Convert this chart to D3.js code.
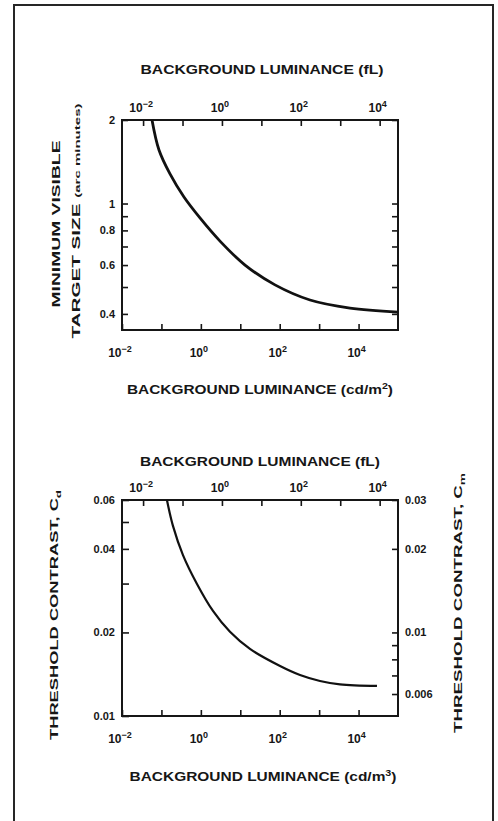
<!DOCTYPE html>
<html>
<head>
<meta charset="utf-8">
<script src="https://cdn.jsdelivr.net/npm/d3@7"></script>
<style>
  body { margin: 0; background: #fff; }
  text { font-family: "Liberation Sans", Arial, sans-serif; font-weight: bold; fill: #161616; }
</style>
</head>
<body>
<div id="chart"></div>
<script>
// luminance in cd/m2, 1 fL = 3.426 cd/m2
var FL = 3.426;

// top panel: minimum visible target size (arc minutes)
var sizeLum = [0.0577, 0.0867, 0.165, 0.373, 0.95, 3.06, 13.2, 75.9, 586, 6050, 100000];
var sizeVal = [2.0, 1.559, 1.278, 1.055, 0.887, 0.732, 0.600, 0.509, 0.449, 0.420, 0.406];

// bottom panel: threshold contrast C_d
var contLum = [0.138, 0.196, 0.352, 0.798, 2.03, 5.48, 17.6, 102, 327, 1050, 3380, 29300];
var contVal = [0.06, 0.0484, 0.038, 0.0299, 0.0239, 0.0201, 0.01744, 0.01514, 0.01405, 0.01337, 0.0130, 0.01283];

var decadeTicks = [1e-2, 1e-1, 1, 1e1, 1e2, 1e3, 1e4];
var decadeLabels = [1e-2, 1, 1e2, 1e4];
var sizeTicks = [2, 1, 0.9, 0.8, 0.7, 0.6, 0.5, 0.4];
var sizeLabels = [2, 1, 0.8, 0.6, 0.4];
var cdTicks = [0.06, 0.05, 0.04, 0.03, 0.02, 0.01];
var cdLabels = [0.06, 0.04, 0.02, 0.01];
var cmTicks = [0.03, 0.02, 0.01, 0.009, 0.008, 0.007, 0.006];
var cmLabels = [0.03, 0.02, 0.01, 0.006];

var svg = d3.select("#chart").append("svg")
  .attr("width", 498).attr("height", 821);

// outer frame (open at bottom of picture)
svg.append("rect")
  .attr("x", 14).attr("y", 5).attr("width", 479).attr("height", 840)
  .attr("fill", "none").attr("stroke", "#262626").attr("stroke-width", 2);

function expLabel(g, x, y, v) {
  var e = Math.round(Math.log10(v));
  var t = g.append("text").attr("x", x).attr("y", y)
    .attr("text-anchor", "middle").style("font-size", "12px");
  t.append("tspan").text("10");
  t.append("tspan").attr("dy", -5).style("font-size", "9px").text(e < 0 ? "\u2212" + (-e) : e);
}

function panel(box) {
  var x = d3.scaleLog().domain([1e-2, 1e5]).range([box.left, box.right]);
  var xf = d3.scaleLog().domain([1e-2 / FL, 1e5 / FL]).range([box.left, box.right]);
  var g = svg.append("g");

  g.append("g")
    .attr("transform", "translate(0," + box.bottom + ")")
    .call(d3.axisBottom(x).tickValues(decadeTicks).tickSize(-6).tickSizeOuter(0).tickFormat(""))
    .call(a => a.select(".domain").remove());
  g.append("g")
    .attr("transform", "translate(0," + box.top + ")")
    .call(d3.axisTop(xf).tickValues(decadeTicks).tickSize(-6).tickSizeOuter(0).tickFormat(""))
    .call(a => a.select(".domain").remove());

  decadeLabels.forEach(v => {
    expLabel(g, x(v) - 2, box.bottom + 27, v);
    expLabel(g, xf(v) - 2, box.top - 8, v);
  });

  g.append("rect")
    .attr("x", box.left).attr("y", box.top)
    .attr("width", box.right - box.left).attr("height", box.bottom - box.top)
    .attr("fill", "none").attr("stroke", "#161616").attr("stroke-width", 2);

  g.selectAll(".tick line").attr("stroke", "#161616").attr("stroke-width", 1.6);
  return {x: x, g: g};
}

function title(txt, sup, cx, y, len) {
  var t = svg.append("text").attr("x", cx).attr("y", y).attr("text-anchor", "middle")
    .style("font-size", "13px")
    .attr("textLength", len).attr("lengthAdjust", "spacingAndGlyphs");
  t.append("tspan").text(txt);
  if (sup) {
    t.append("tspan").attr("dy", -5).style("font-size", "9px").text(sup);
    t.append("tspan").attr("dy", 5).text(")");
  }
}

var smooth = d3.curveCatmullRom.alpha(0.5);

// ---------- top panel ----------
var boxA = {left: 122, right: 398, top: 120, bottom: 330};
var yA = d3.scaleLog().domain([0.35, 2]).range([boxA.bottom, boxA.top]);
var pA = panel(boxA);

pA.g.append("g")
  .attr("transform", "translate(" + boxA.left + ",0)")
  .call(d3.axisLeft(yA).tickValues(sizeTicks).tickSize(-6).tickPadding(7).tickSizeOuter(0)
    .tickFormat(d => sizeLabels.indexOf(d) >= 0 ? d3.format("~g")(d) : ""))
  .call(a => a.select(".domain").remove())
  .call(a => a.selectAll("text").style("font-size", "11px"));
pA.g.append("g")
  .attr("transform", "translate(" + boxA.right + ",0)")
  .call(d3.axisRight(yA).tickValues(sizeTicks).tickSize(-6).tickSizeOuter(0).tickFormat(""))
  .call(a => a.select(".domain").remove());
pA.g.selectAll(".tick line").attr("stroke", "#161616").attr("stroke-width", 1.6);

svg.append("defs").append("clipPath").attr("id", "clipA").append("rect")
  .attr("x", boxA.left).attr("y", boxA.top - 1)
  .attr("width", boxA.right - boxA.left).attr("height", boxA.bottom - boxA.top + 1);

var lineA = d3.line().curve(smooth)
  .x((d, i) => pA.x(sizeLum[i])).y(d => yA(d));
pA.g.append("path").datum(sizeVal)
  .attr("d", lineA).attr("clip-path", "url(#clipA)")
  .attr("fill", "none").attr("stroke", "#111").attr("stroke-width", 2.8);

title("BACKGROUND LUMINANCE (fL)", null, 262, 74, 243);
title("BACKGROUND LUMINANCE (cd/m", "2", 260, 394, 266);

svg.append("text").attr("transform", "translate(60,224) rotate(-90)")
  .attr("text-anchor", "middle").style("font-size", "11px")
  .attr("textLength", 167).attr("lengthAdjust", "spacingAndGlyphs")
  .text("MINIMUM VISIBLE");
var tA = svg.append("text").attr("transform", "translate(80,221) rotate(-90)")
  .attr("text-anchor", "middle").style("font-size", "11px")
  .attr("textLength", 235).attr("lengthAdjust", "spacingAndGlyphs");
tA.append("tspan").text("TARGET SIZE ");
tA.append("tspan").style("font-size", "8px").text("(arc minutes)");

// ---------- bottom panel ----------
var boxB = {left: 122, right: 398, top: 500, bottom: 716};
var yB = d3.scaleLog().domain([0.01, 0.06]).range([boxB.bottom, boxB.top]);
var yM = d3.scaleLog().domain([0.005, 0.03]).range([boxB.bottom, boxB.top]);
var pB = panel(boxB);

pB.g.append("g")
  .attr("transform", "translate(" + boxB.left + ",0)")
  .call(d3.axisLeft(yB).tickValues(cdTicks).tickSize(-7).tickPadding(7).tickSizeOuter(0)
    .tickFormat(d => cdLabels.indexOf(d) >= 0 ? d3.format(".2f")(d) : ""))
  .call(a => a.select(".domain").remove())
  .call(a => a.selectAll("text").style("font-size", "11px"));
pB.g.append("g")
  .attr("transform", "translate(" + boxB.right + ",0)")
  .call(d3.axisRight(yM).tickValues(cmTicks).tickSize(-6).tickPadding(7).tickSizeOuter(0)
    .tickFormat(d => cmLabels.indexOf(d) >= 0 ? (d < 0.01 ? d3.format(".3f")(d) : d3.format(".2f")(d)) : ""))
  .call(a => a.select(".domain").remove())
  .call(a => a.selectAll("text").style("font-size", "11px"));
pB.g.selectAll(".tick line").attr("stroke", "#161616").attr("stroke-width", 1.6);

svg.select("defs").append("clipPath").attr("id", "clipB").append("rect")
  .attr("x", boxB.left).attr("y", boxB.top - 1)
  .attr("width", boxB.right - boxB.left).attr("height", boxB.bottom - boxB.top + 1);

var lineB = d3.line().curve(smooth)
  .x((d, i) => pB.x(contLum[i])).y(d => yB(d));
pB.g.append("path").datum(contVal)
  .attr("d", lineB).attr("clip-path", "url(#clipB)")
  .attr("fill", "none").attr("stroke", "#111").attr("stroke-width", 2.2);

title("BACKGROUND LUMINANCE (fL)", null, 260, 466, 240);
title("BACKGROUND LUMINANCE (cd/m", "3", 263, 781, 267);

var tL = svg.append("text").attr("transform", "translate(58,615) rotate(-90)")
  .attr("text-anchor", "middle").style("font-size", "11px")
  .attr("textLength", 250).attr("lengthAdjust", "spacingAndGlyphs");
tL.append("tspan").text("THRESHOLD CONTRAST, C");
tL.append("tspan").attr("dy", 3).style("font-size", "8px").text("d");

var tR = svg.append("text").attr("transform", "translate(462,603) rotate(-90)")
  .attr("text-anchor", "middle").style("font-size", "11px")
  .attr("textLength", 260).attr("lengthAdjust", "spacingAndGlyphs");
tR.append("tspan").text("THRESHOLD CONTRAST, C");
tR.append("tspan").attr("dy", 3).style("font-size", "8px").text("m");
</script>
</body>
</html>
